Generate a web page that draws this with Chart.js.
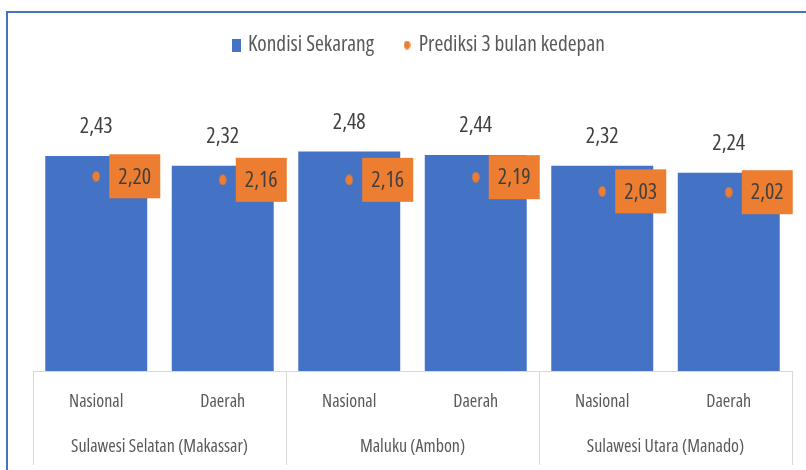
<!DOCTYPE html>
<html><head><meta charset="utf-8">
<script src="https://cdn.jsdelivr.net/npm/chart.js@4/dist/chart.umd.min.js"></script>
<style>
html,body{margin:0;padding:0;background:#fff;overflow:hidden;width:806px;height:470px;}
#wrap{position:absolute;left:0;top:0;width:806px;height:470px;}
#frame{position:absolute;left:6px;top:11px;width:900px;height:600px;border:2px solid #4472C4;box-sizing:border-box;pointer-events:none;}
</style></head><body>
<div id="wrap"><canvas id="c" width="806" height="470"></canvas></div>
<div id="frame"></div>
<script>
const categories = ['Nasional','Daerah','Nasional','Daerah','Nasional','Daerah'];
const groups = ['Sulawesi Selatan (Makassar)','Maluku (Ambon)','Sulawesi Utara (Manado)'];
const kondisiSekarang = [2.43, 2.32, 2.48, 2.44, 2.32, 2.24];
const prediksi3Bulan = [2.20, 2.16, 2.16, 2.19, 2.03, 2.02];
const seriesNames = ['Kondisi Sekarang', 'Prediksi 3 bulan kedepan'];

const FONT = "'Open Sans', sans-serif";
const STRETCH = 'condensed';
const BLUE = '#4472C4', ORANGE = '#ED7D31';
Chart.defaults.font.family = FONT;
Chart.defaults.font.weight = STRETCH;

function makeRect(w, h){ const c=document.createElement('canvas'); c.width=w; c.height=h; const x=c.getContext('2d'); x.fillStyle=BLUE; x.fillRect(0,0,w,h); return c; }
function makeEllipse(w, h){ const c=document.createElement('canvas'); c.width=w; c.height=h; const x=c.getContext('2d'); x.fillStyle=ORANGE; x.beginPath(); x.ellipse(w/2,h/2,w/2-0.3,h/2-0.3,0,0,Math.PI*2); x.fill(); return c; }
const legendIcons = [makeRect(9, 13), makeEllipse(7, 9)];
const pointIcon = makeEllipse(8, 11);

const fmt = v => v.toFixed(2).replace('.', ',');

const labelPlugin = {
  id: 'valueLabels',
  afterDatasetsDraw(chart){
    const ctx = chart.ctx;
    ctx.save();
    ctx.font = STRETCH + ' 22px ' + FONT;
    ctx.textAlign = 'center';
    ctx.textBaseline = 'middle';
    chart.getDatasetMeta(0).data.forEach((bar, i) => {
      ctx.fillStyle = '#404040';
      ctx.fillText(fmt(kondisiSekarang[i]), bar.x, bar.y - 29);
    });
    chart.getDatasetMeta(1).data.forEach((pt, i) => {
      const bw = 51, bh = 44, bx = pt.x + 13;
      ctx.fillStyle = ORANGE;
      ctx.fillRect(bx, pt.y - bh / 2, bw, bh);
      ctx.fillStyle = '#404040';
      ctx.fillText(fmt(prediksi3Bulan[i]), bx + bw / 2, pt.y + 1);
    });
    ctx.restore();
  },
  afterDraw(chart){
    // group separators on the two-level category axis
    const x = chart.scales.x, x2 = chart.scales.x2, ctx = chart.ctx;
    const n = groups.length, step = (x2.right - x2.left) / n;
    ctx.save();
    ctx.strokeStyle = '#D9D9D9';
    ctx.lineWidth = 1;
    for (let i = 0; i <= n; i++){
      const px = Math.round(x2.left + i * step) + 0.5;
      ctx.beginPath();
      ctx.moveTo(px, x.top);
      ctx.lineTo(px, x2.bottom + 5);
      ctx.stroke();
    }
    ctx.restore();
  }
};

const legendPlugin = {
  id: 'legendFit',
  beforeUpdate(chart){
    const lg = chart.legend;
    if (lg && !lg._fixedFit){
      const f = lg.fit.bind(lg);
      lg.fit = function(){ f(); this.height = 103.2; };
      lg._fixedFit = true;
    }
  },
  afterLayout(chart){
    const lg = chart.legend;
    if (lg){ lg.left += 7.5; lg.right += 7.5; }
  }
};

new Chart(document.getElementById('c'), {
  type: 'bar',
  data: {
    labels: categories,
    datasets: [
      { label: seriesNames[0], data: kondisiSekarang, backgroundColor: BLUE, borderWidth: 0,
        barPercentage: 0.806, categoryPercentage: 1, order: 2 },
      { type: 'line', label: seriesNames[1], data: prediksi3Bulan, showLine: false,
        pointStyle: pointIcon, pointRadius: 5, pointHoverRadius: 5, pointBorderWidth: 0,
        backgroundColor: ORANGE, borderColor: ORANGE, order: 1 }
    ]
  },
  options: {
    responsive: false,
    animation: false,
    events: [],
    layout: { padding: { left: 33, right: 14, top: 2.3, bottom: 10 } },
    plugins: {
      tooltip: { enabled: false },
      legend: {
        display: true, position: 'top', align: 'center',
        labels: {
          usePointStyle: true, boxWidth: 2, boxHeight: 2, padding: 32,
          color: '#595959', font: { family: FONT, size: 21.4, weight: STRETCH },
          generateLabels(chart){
            const items = Chart.defaults.plugins.legend.labels.generateLabels(chart);
            items.sort((a, b) => a.datasetIndex - b.datasetIndex);
            items.forEach(it => { it.pointStyle = legendIcons[it.datasetIndex]; });
            return items;
          }
        }
      }
    },
    scales: {
      x: {
        type: 'category', position: 'bottom', offset: true,
        grid: { display: false, drawTicks: false, tickLength: 0 },
        border: { display: true, color: '#D9D9D9', width: 1 },
        ticks: { padding: 20.2, color: '#595959', font: { family: FONT, size: 18, weight: STRETCH }, autoSkip: false, maxRotation: 0, minRotation: 0 }
      },
      x2: {
        type: 'category', labels: groups, position: 'bottom', offset: true,
        grid: { display: false, drawTicks: false, tickLength: 0 },
        border: { display: false },
        ticks: { padding: 2.7, color: '#595959', font: { family: FONT, size: 18, weight: STRETCH }, autoSkip: false, maxRotation: 0, minRotation: 0 }
      },
      y: { display: false, min: 0, max: 3 }
    }
  },
  plugins: [labelPlugin, legendPlugin]
});
</script>
</body></html>
